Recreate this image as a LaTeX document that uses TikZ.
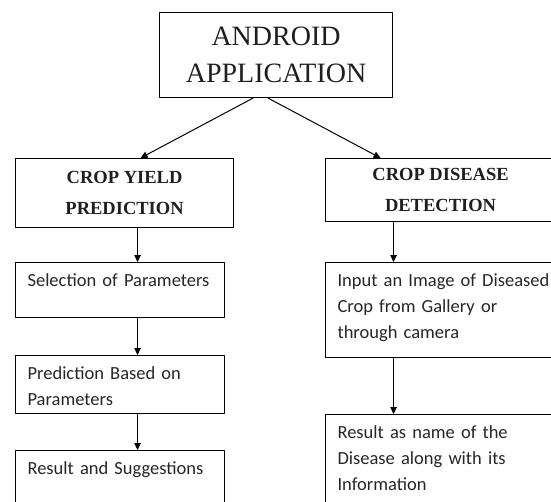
\documentclass[tikz,border=0pt]{standalone}
\usepackage{fontspec}
\setmainfont{Liberation Serif}
\newfontfamily\bodyfont{Carlito}
\usetikzlibrary{arrows.meta}
\tikzset{
  headbox/.style={draw,line width=1.1pt,anchor=north west,align=center,text=black!88},
  stepbox/.style={draw,line width=1.1pt,anchor=north west,align=left,inner xsep=12pt,inner ysep=0pt,
    text height=24pt,text=black!85,font=\bodyfont\fontsize{18.5}{26}\selectfont}
}
\begin{document}
\begin{tikzpicture}[x=1pt,y=-1pt,>={Triangle[length=7pt,width=6.5pt]},line join=round]
		\useasboundingbox (0,0) rectangle (551,501);
		\clip (0,0) rectangle (551,501);
		\node[headbox,minimum width=233,minimum height=85,font=\fontsize{28}{37}\selectfont] (app) at (159,12) {ANDROID\\APPLICATION};
		\node[headbox,minimum width=218,minimum height=69,font=\bfseries\fontsize{18.5}{31}\selectfont] (yield) at (15,158) {CROP YIELD\\PREDICTION};
		\node[headbox,minimum width=230,minimum height=63,font=\bfseries\fontsize{18.5}{31}\selectfont] (disease) at (325,158) {CROP DISEASE\\DETECTION};
		% left column
		\node[stepbox,text width=185,text depth=31] (sel) at (15,262) {Selection of Parameters};
		\node[stepbox,text width=185,text depth=34] (pred) at (15,355) {Prediction Based on\\Parameters};
		\node[stepbox,text width=185,text depth=70] (res) at (15,450) {Result and Suggestions};
		% right column
		\node[stepbox,text width=225,text depth=71] (input) at (325,262) {Input an Image of Diseased\\Crop from Gallery or\\through camera};
		\node[stepbox,text width=225,text depth=90] (out) at (325,414) {Result as name of the\\Disease along with its\\Information};
		\draw[->,line width=1pt] ([xshift=-23pt]app.south) -- ([xshift=16pt]yield.north);
		\draw[->,line width=1pt] ([xshift=-8pt]app.south) -- ([xshift=-60pt]disease.north);
		\draw[->,line width=1pt] ([xshift=13pt]yield.south) -- ([xshift=13pt]yield.south |- sel.north);
		\draw[->,line width=1pt] ([xshift=13pt]yield.south |- sel.south) -- ([xshift=13pt]yield.south |- pred.north);
		\draw[->,line width=1pt] ([xshift=13pt]yield.south |- pred.south) -- ([xshift=13pt]yield.south |- res.north);
		\draw[->,line width=1pt] ([xshift=-47pt]disease.south) -- ([xshift=-47pt]disease.south |- input.north);
		\draw[->,line width=1pt] ([xshift=-47pt]disease.south |- input.south) -- ([xshift=-47pt]disease.south |- out.north);
\end{tikzpicture}
\end{document}
